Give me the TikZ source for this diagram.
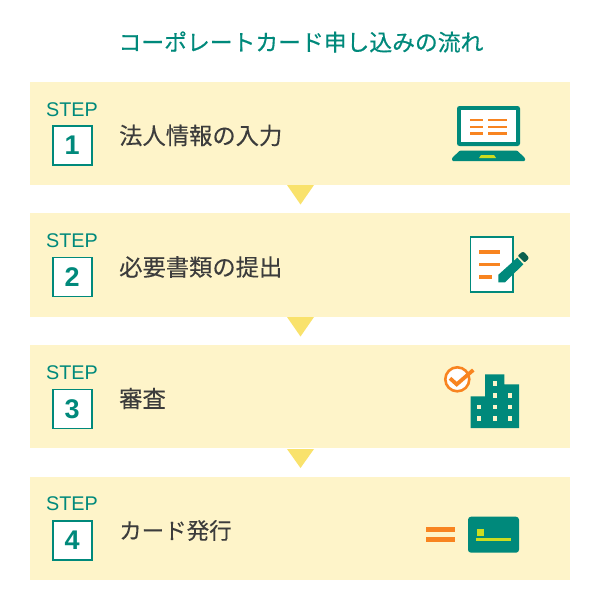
\documentclass[tikz,border=0pt]{standalone}
\usepackage{fontspec}
\setmainfont{Liberation Sans}
\newfontfamily\jpfont[FakeBold=0.25]{Noto Sans CJK JP}
\newfontfamily\jptitle[FakeBold=0.45]{Noto Sans CJK JP}
\definecolor{teal}{HTML}{00897B}
\definecolor{creamy}{HTML}{FEF4C9}
\definecolor{arrowy}{HTML}{F9E26C}
\definecolor{orangey}{HTML}{F88420}
\definecolor{limey}{HTML}{CCDC20}
\definecolor{darkteal}{HTML}{0B5F4E}
\definecolor{ink}{HTML}{3C3C3C}
\tikzset{
  x=1pt,y=-1pt,
  bar/.style={fill=creamy,draw=none,minimum width=540pt,inner sep=0pt,outer sep=0pt,anchor=north west},
  steplabel/.style={text=teal,font=\fontsize{19.8}{20}\selectfont,inner sep=0pt,anchor=center},
  numbox/.style={draw=teal,line width=1.5pt,fill=white,minimum width=39pt,minimum height=39pt,inner sep=0pt,text=teal,font=\fontsize{27}{27}\selectfont\bfseries,anchor=north west},
  jplabel/.style={text=ink,font=\jpfont\fontsize{23.3}{24}\selectfont,inner sep=0pt,anchor=west},
  titlelabel/.style={text=teal,font=\jptitle\fontsize{22.8}{23}\selectfont,inner sep=0pt,anchor=center},
  pointer/.style={fill=arrowy,draw=none},
  oline/.style={draw=orangey,line width=2.6pt},
}
\begin{document}
\begin{tikzpicture}
\useasboundingbox (0,0) rectangle (600,610);
\fill[white] (0,0) rectangle (600,610);
\node[titlelabel] (title) at (301,42) {コーポレートカード申し込みの流れ};
% bars
\node[bar,minimum height=103pt] (b1) at (30,82) {};
\node[bar,minimum height=104pt] (b2) at (30,213) {};
\node[bar,minimum height=103pt] (b3) at (30,345) {};
\node[bar,minimum height=103pt] (b4) at (30,477) {};
% pointers
\fill[pointer] (287,185) -- (314,185) -- (300.5,204.5) -- cycle;
\fill[pointer] (287,317) -- (314,317) -- (300.5,336.5) -- cycle;
\fill[pointer] (287,449) -- (314,449) -- (300.5,468) -- cycle;
% step labels
\node[steplabel] (s1) at (72,109.5) {STEP};
\node[steplabel] (s2) at (72,240.5) {STEP};
\node[steplabel] (s3) at (72,372.5) {STEP};
\node[steplabel] (s4) at (72,504) {STEP};
\node[numbox] (n1) at (52,125) {1};
\node[numbox] (n2) at (52,256.5) {2};
\node[numbox] (n3) at (52,388.5) {3};
\node[numbox] (n4) at (52,520) {4};
\node[jplabel] (t1) at (119,135.5) {法人情報の入力};
\node[jplabel] (t2) at (119,267) {必要書類の提出};
\node[jplabel] (t3) at (119,398.5) {審査};
\node[jplabel,font=\jpfont\fontsize{22.5}{23}\selectfont] (t4) at (119,530.5) {カード発行};
% laptop
\fill[teal,rounded corners=2.5pt] (457,106) rectangle (520,146);
\fill[white] (461,110) rectangle (516,142);
\foreach \yy in {120,127,133.5}{
  \draw[oline] (470,\yy) -- (483,\yy);
  \draw[oline] (488,\yy) -- (507,\yy);
}
\fill[teal,rounded corners=1pt] (460,150.5) -- (517,150.5) -- (525,158) -- (525,161) -- (452,161) -- (452,158) -- cycle;
\fill[limey] (481,155) -- (494,155) -- (496,158) -- (479,158) -- cycle;
% document
\draw[teal,line width=1.5pt,fill=white] (470.5,237) rectangle (513,292);
\draw[orangey,line width=3.6pt] (479,252) -- (499.5,252);
\draw[orangey,line width=3.6pt] (479,264.5) -- (499.5,264.5);
\draw[orangey,line width=3.6pt] (479,277) -- (492,277);
\fill[teal] (498.3,282.3) -- (498.3,274.8) -- (517.3,257.7) -- (523.3,264.3) -- (505,282.3) -- cycle;
\fill[darkteal,rounded corners=1pt] (517.7,255.7) -- (522,252) -- (524,252) -- (528.5,257) -- (528.5,259) -- (524.5,262.5) -- cycle;
% building + check
\fill[teal] (470.7,396.3) -- (485,396.3) -- (485,374.3) -- (504.3,374.3) -- (504.3,384.3) -- (519,384.3) -- (519,428) -- (470.7,428) -- cycle;
\foreach \xx/\yy in {494.7/383.7,494.7/395.7,494.7/407,494.7/418.7,479/407,479/418.7,510/395.7,510/407,510/418.7}{
  \fill[creamy] (\xx-2,\yy-2.3) rectangle (\xx+2,\yy+2.3);
}
\draw[orangey,line width=2.6pt,fill=white] (457.3,379.3) circle (12);
\draw[orangey,line width=3.8pt] (450,378.3) -- (456.7,384.3) -- (473.3,370);
% card
\fill[orangey] (426,526.5) rectangle (454.5,531.5);
\fill[orangey] (426,537.2) rectangle (454.5,542.2);
\fill[teal,rounded corners=3pt] (468,516.7) rectangle (519,552.7);
\fill[limey] (476.5,528.5) rectangle (483.9,535.5);
\fill[limey] (476,537.5) rectangle (511,540.5);
\end{tikzpicture}
\end{document}
